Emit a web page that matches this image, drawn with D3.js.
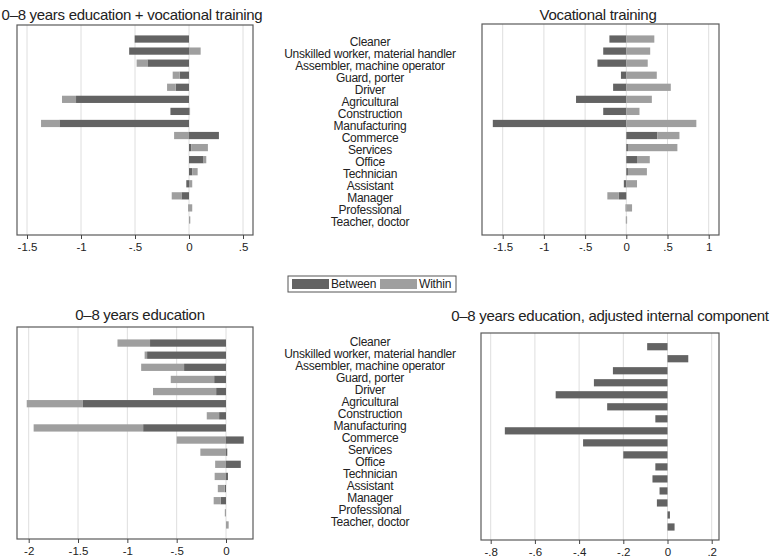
<!DOCTYPE html>
<html><head><meta charset="utf-8">
<script src="https://cdn.jsdelivr.net/npm/d3@7"></script>
<style>
body{margin:0;background:#fff;}
text{font-family:"Liberation Sans",Arial,sans-serif;fill:#222;}
</style></head>
<body><svg id="c" width="771" height="560"></svg>
<script>
// ---------- data ----------
const categories = ["Cleaner","Unskilled worker, material handler","Assembler, machine operator","Guard, porter","Driver","Agricultural","Construction","Manufacturing","Commerce","Services","Office","Technician","Assistant","Manager","Professional","Teacher, doctor"];
const seriesNames = ["Between","Within"];
// Panel 1: 0–8 years education + vocational training
const evBetween = [-0.50,-0.554,-0.385,-0.086,-0.123,-1.046,-0.172,-1.20,0.277,0.02,0.135,0.03,-0.025,-0.07,-0.005,0.0];
const evWithin  = [-0.005,0.108,-0.10,-0.065,-0.08,-0.13,0.01,-0.17,-0.138,0.155,0.025,0.05,0.03,-0.09,0.03,0.012];
// Panel 2: Vocational training
const vocBetween = [-0.205,-0.28,-0.35,-0.065,-0.16,-0.61,-0.28,-1.62,0.375,0.02,0.13,0.02,-0.03,-0.09,-0.008,-0.005];
const vocWithin  = [0.34,0.29,0.26,0.37,0.54,0.31,0.16,0.85,0.27,0.60,0.155,0.23,0.13,-0.14,0.07,0.01];
// Panel 3: 0–8 years education
const eduBetween = [-0.77,-0.80,-0.425,-0.12,-0.10,-1.45,-0.07,-0.84,0.18,0.013,0.15,0.02,-0.013,-0.055,0.0,0.0];
const eduWithin  = [-0.33,-0.025,-0.435,-0.44,-0.64,-0.57,-0.125,-1.11,-0.50,-0.26,-0.11,-0.115,-0.07,-0.07,-0.012,0.027];
// Panel 4: 0–8 years education, adjusted internal component
const adjInternal = [-0.092,0.094,-0.247,-0.333,-0.506,-0.273,-0.055,-0.736,-0.382,-0.20,-0.055,-0.068,-0.036,-0.048,0.011,0.032];
// ticks
const ticks1 = [-1.5,-1,-0.5,0,0.5];
const ticks2 = [-1.5,-1,-0.5,0,0.5,1];
const ticks3 = [-2,-1.5,-1,-0.5,0];
const ticks4 = [-0.8,-0.6,-0.4,-0.2,0,0.2];
const titles = ["0–8 years education + vocational training","Vocational training","0–8 years education","0–8 years education, adjusted internal component"];

// ---------- drawing ----------
const svg = d3.select("#c");
const DARK = "#636363", LIGHT = "#9f9f9f";
const fmt = v => v === 0 ? "0" : String(v).replace(/^(-?)0\./, "$1.");

function panel(cfg){
  const g = svg.append("g");
  const x = d3.scaleLinear().domain(cfg.domain).range(cfg.range);
  const y = d3.scaleBand().domain(categories).range(cfg.yr).paddingInner(0.4).paddingOuter(0.2);
  const [L,T,R,B] = cfg.box;
  // gridlines
  g.selectAll("line.grid").data(cfg.ticks).join("line")
    .attr("x1", d=>x(d)).attr("x2", d=>x(d)).attr("y1", T).attr("y2", B)
    .attr("stroke", "#dedede").attr("stroke-width", 1);
  // bars
  if (cfg.stack){
    const rows = categories.map((c,i)=>({cat:c, Between:cfg.stack[0][i], Within:cfg.stack[1][i]}));
    const st = d3.stack().keys(seriesNames).offset(d3.stackOffsetDiverging)(rows);
    g.selectAll("g.s").data(st).join("g")
      .attr("fill", (d,i)=> i===0?DARK:LIGHT)
      .selectAll("rect").data(d=>d).join("rect")
      .attr("x", d=>Math.min(x(d[0]),x(d[1])))
      .attr("width", d=>Math.abs(x(d[1])-x(d[0])))
      .attr("y", d=>y(d.data.cat)).attr("height", y.bandwidth());
  } else {
    g.selectAll("rect.b").data(cfg.single).join("rect")
      .attr("fill", DARK)
      .attr("x", d=>Math.min(x(0),x(d))).attr("width", d=>Math.abs(x(d)-x(0)))
      .attr("y", (d,i)=>y(categories[i])).attr("height", y.bandwidth());
  }
  // frame
  g.append("rect").attr("x",L).attr("y",T).attr("width",R-L).attr("height",B-T)
    .attr("fill","none").attr("stroke","#5a5a5a").attr("stroke-width",1.2);
  // axis
  const ax = d3.axisBottom(x).tickValues(cfg.ticks).tickFormat(fmt).tickSize(4).tickPadding(4);
  const a = g.append("g").attr("transform",`translate(0,${B})`).call(ax);
  a.select(".domain").remove();
  a.selectAll(".tick line").attr("stroke","#444");
  a.selectAll(".tick text").attr("font-size","11.5px").attr("fill","#333")
    .attr("font-family","Liberation Sans, Arial, sans-serif");
  // title
  g.append("text").attr("x",cfg.tx).attr("y",cfg.ty).attr("text-anchor","middle")
    .attr("font-size","15px").attr("letter-spacing","-0.3px").text(cfg.title);
}

panel({domain:[-1.5,0.5], range:[27,243], yr:[33,226], box:[17,25,253,235], ticks:ticks1,
  stack:[evBetween,evWithin], title:titles[0], tx:132, ty:20});
panel({domain:[-1.5,1], range:[502.7,708.7], yr:[33,226], box:[482,24,719,235], ticks:ticks2,
  stack:[vocBetween,vocWithin], title:titles[1], tx:598, ty:20});
panel({domain:[-2,0], range:[28.7,226], yr:[337,531], box:[17,327,253,539], ticks:ticks3,
  stack:[eduBetween,eduWithin], title:titles[2], tx:140, ty:320});
panel({domain:[-0.8,0.2], range:[490.7,711.7], yr:[340.7,533], box:[481,333,719,540], ticks:ticks4,
  single:adjInternal, title:titles[3], tx:610, ty:321});

// category labels
function labels(y0,y1){
  const ly = d3.scalePoint().domain(categories).range([y0,y1]);
  svg.append("g").selectAll("text").data(categories).join("text")
    .attr("x",370).attr("y",d=>ly(d)).attr("dy","0.35em").attr("text-anchor","middle")
    .attr("font-size","12px").attr("letter-spacing","-0.25px").text(d=>d);
}
labels(41.5,221.5);
labels(342,521.5);

// legend
const lg = svg.append("g");
lg.append("rect").attr("x",288).attr("y",276).attr("width",168).attr("height",16)
  .attr("fill","#fff").attr("stroke","#555").attr("stroke-width",1);
const items = [{k:"Between",c:DARK,x:292},{k:"Within",c:LIGHT,x:380}];
items.forEach(it=>{
  lg.append("rect").attr("x",it.x).attr("y",279).attr("width",37).attr("height",10).attr("fill",it.c);
  lg.append("text").attr("x",it.x+39).attr("y",284).attr("dy","0.35em").attr("font-size","12px")
    .attr("letter-spacing","-0.2px").text(it.k);
});
</script></body></html>
